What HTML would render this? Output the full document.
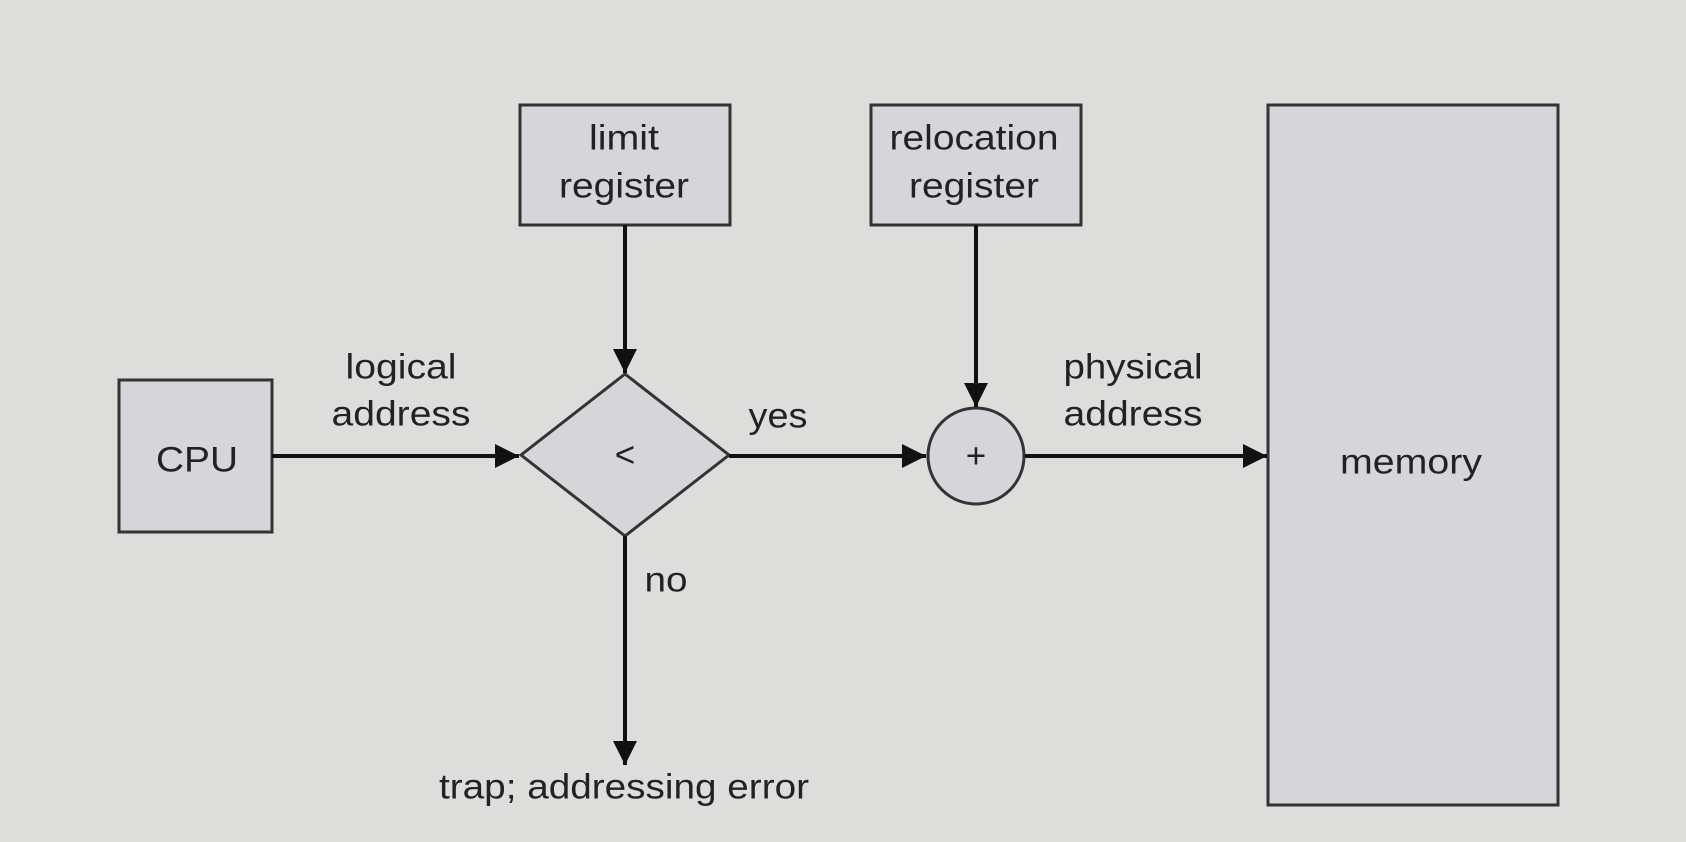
<!DOCTYPE html>
<html><head><style>
html,body{margin:0;padding:0;background:#dddddb;}
svg{display:block}
text{font-family:"Liberation Sans",sans-serif;fill:#222;text-anchor:middle;dominant-baseline:central;font-size:35px;}
</style></head><body>
<svg width="1686" height="842" viewBox="0 0 1686 842">
<defs>
<marker id="b" viewBox="0 0 10 10" refX="10" refY="5" markerWidth="26" markerHeight="24" orient="auto" markerUnits="userSpaceOnUse"><path d="M0,0 L10,5 L0,10 z" fill="#111"/></marker></defs>
<rect width="1686" height="842" fill="#dddddb"/>
<g fill="#d6d5d9" stroke="#333" stroke-width="3">
<rect x="520" y="105" width="210" height="120"/>
<rect x="871" y="105" width="210" height="120"/>
<rect x="1268" y="105" width="290" height="700"/>
<rect x="119" y="380" width="153" height="152"/>
<path d="M625,374 L729,455 L625,536 L521,455 Z"/>
<circle cx="976" cy="456" r="48"/>
</g>
<g stroke="#111" stroke-width="4" fill="none">
<line x1="272" y1="456" x2="519" y2="456" marker-end="url(#b)"/>
<line x1="729" y1="456" x2="926" y2="456" marker-end="url(#b)"/>
<line x1="1025" y1="456" x2="1267" y2="456" marker-end="url(#b)"/>
<line x1="625" y1="225" x2="625" y2="373" marker-end="url(#b)"/>
<line x1="976" y1="225" x2="976" y2="407" marker-end="url(#b)"/>
<line x1="625" y1="536" x2="625" y2="765" marker-end="url(#b)"/>
</g>
<text x="624" y="138" textLength="70" lengthAdjust="spacingAndGlyphs">limit</text><text x="624" y="186" textLength="130" lengthAdjust="spacingAndGlyphs">register</text>
<text x="974" y="138" textLength="169" lengthAdjust="spacingAndGlyphs">relocation</text><text x="974" y="186" textLength="130" lengthAdjust="spacingAndGlyphs">register</text>
<text x="197" y="460" font-size="38" textLength="82" lengthAdjust="spacingAndGlyphs">CPU</text>
<text x="401" y="367" textLength="111" lengthAdjust="spacingAndGlyphs">logical</text><text x="401" y="414" textLength="139" lengthAdjust="spacingAndGlyphs">address</text>
<text x="778" y="416" textLength="59" lengthAdjust="spacingAndGlyphs">yes</text>
<text x="1133" y="367" textLength="139" lengthAdjust="spacingAndGlyphs">physical</text><text x="1133" y="414" textLength="139" lengthAdjust="spacingAndGlyphs">address</text>
<text x="666" y="580" textLength="43" lengthAdjust="spacingAndGlyphs">no</text>
<text x="624" y="787" textLength="370" lengthAdjust="spacingAndGlyphs">trap; addressing error</text>
<text x="1411" y="462" textLength="142" lengthAdjust="spacingAndGlyphs">memory</text>
<text x="625" y="455">&lt;</text>
<text x="976" y="456">+</text>
</svg>
</body></html>
